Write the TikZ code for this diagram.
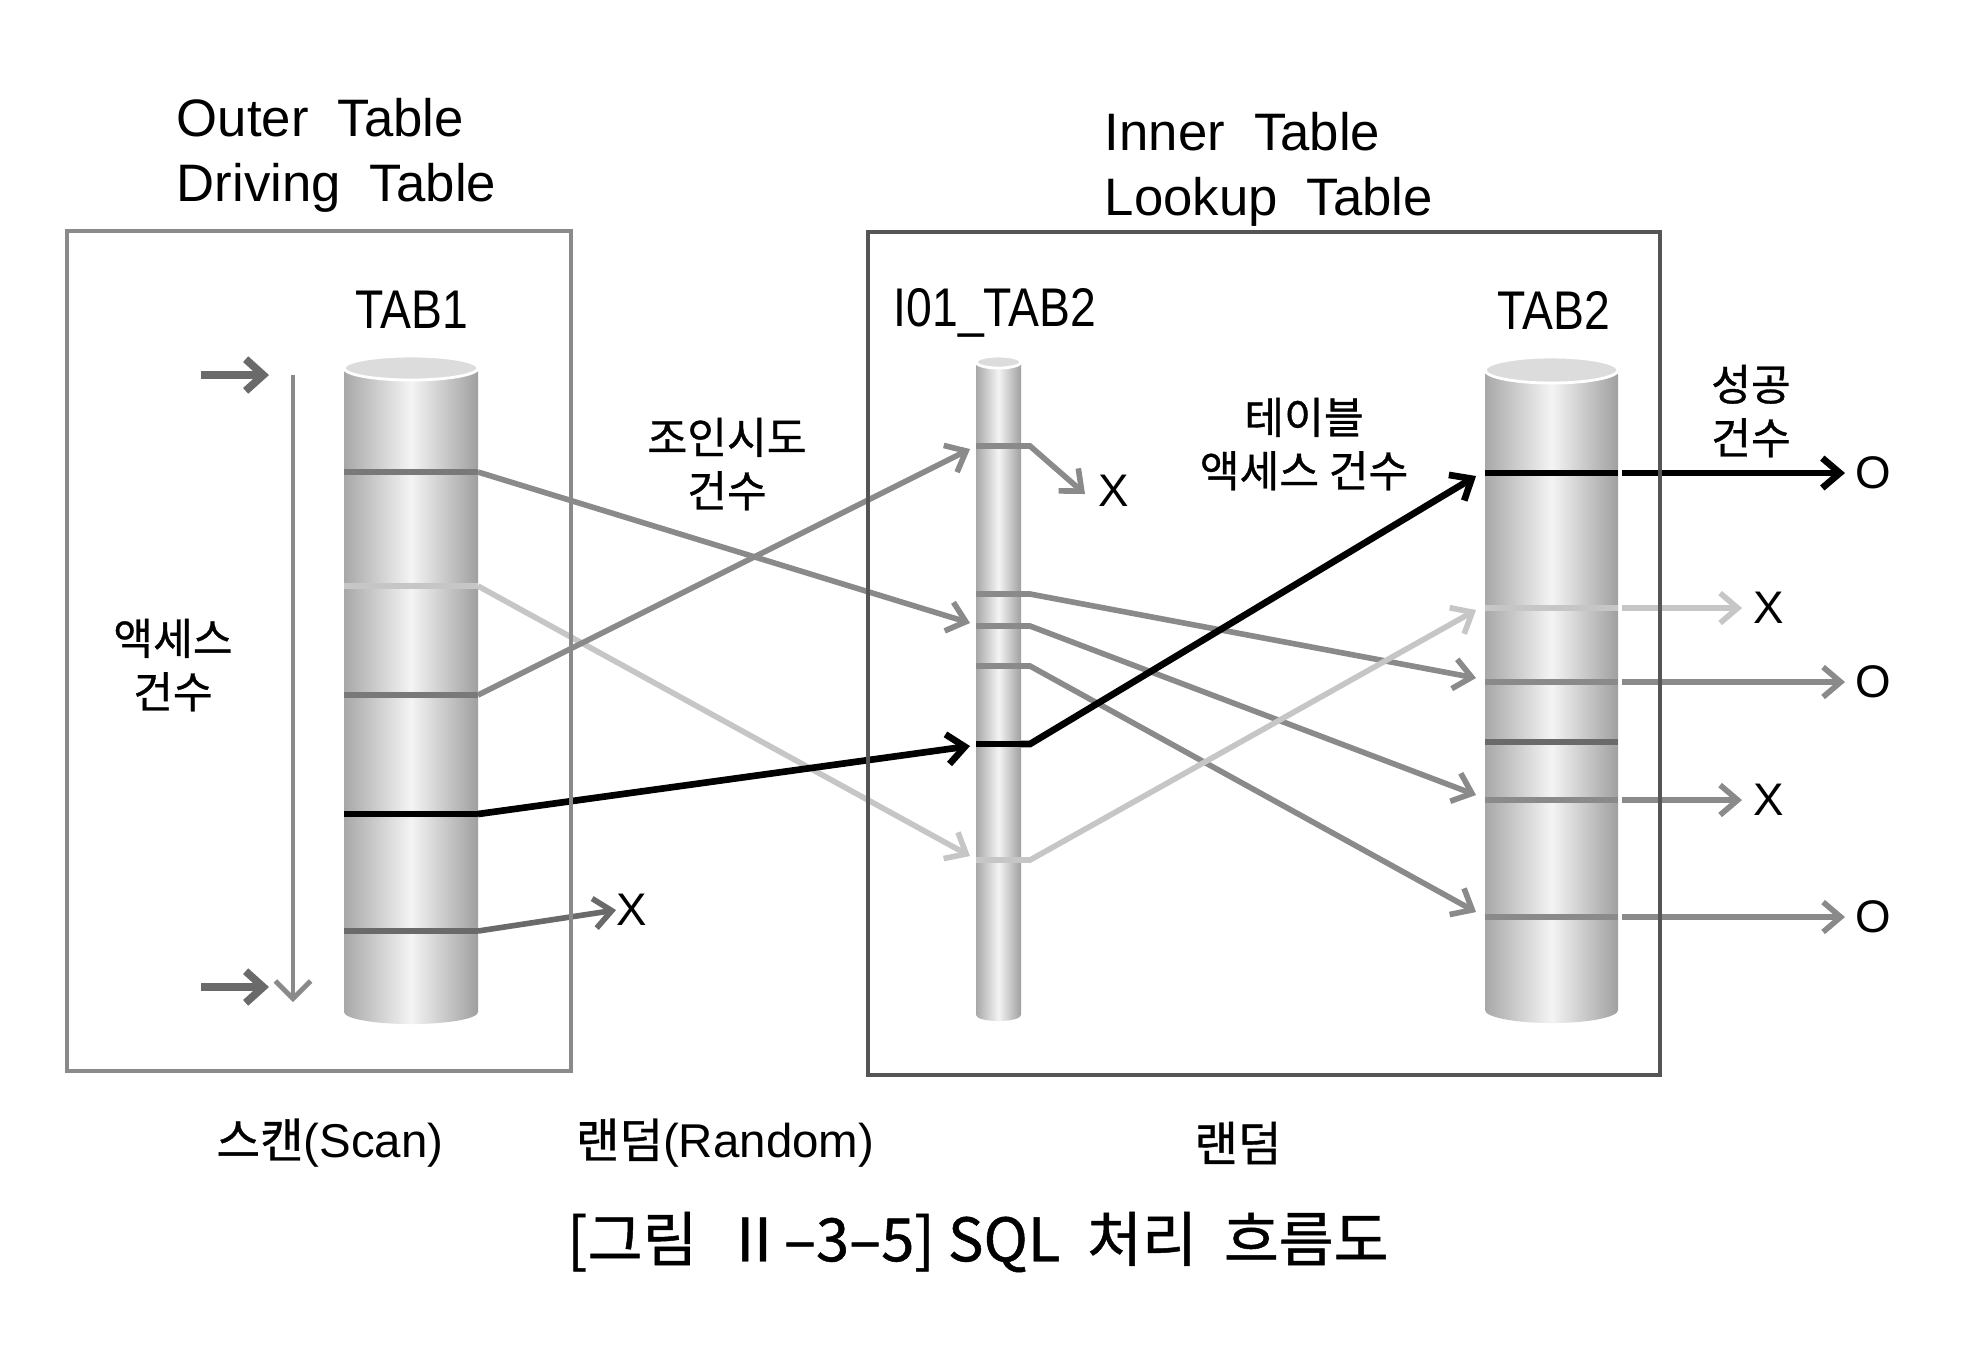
\documentclass[tikz,border=0pt]{standalone}
\usepackage{fontspec}
\setmainfont{Liberation Sans}
\newfontfamily\kr[FakeBold=0.8]{Noto Sans CJK KR}
\newfontfamily\narrowsans[FakeStretch=0.85]{Liberation Sans}
\usetikzlibrary{arrows.meta}

\definecolor{linegray}{HTML}{8A8A8A}
\definecolor{lightline}{HTML}{C6C6C6}
\definecolor{darkline}{HTML}{6A6A6A}
\definecolor{boxgray}{HTML}{8A8A8A}
\definecolor{boxdark}{HTML}{555555}
\definecolor{cylside}{HTML}{A8A8A8}
\definecolor{cylmid}{HTML}{F4F4F4}
\definecolor{cyltopfill}{HTML}{DCDCDC}

\tikzset{
  cylbody/.style={left color=cylside, right color=cylside!95!black, middle color=cylmid},
  cyltop/.style={fill=cyltopfill, draw=white, line width=0.8pt},
  stripe/.style={line width=1.7pt},
  flow/.style={line width=1.6pt, -{Straight Barb[length=5pt,width=8.5pt]}},
  sidearrow/.style={draw=darkline, line width=2.2pt, -{Straight Barb[length=5pt,width=9pt]}},
  titletext/.style={font=\fontsize{15}{18.4}\selectfont, align=left, inner sep=0pt},
  tablabel/.style={font=\narrowsans\fontsize{15.5}{18}\selectfont, inner sep=0pt},
  krlabel/.style={font=\kr\fontsize{12.3}{15.2}\selectfont, align=center, inner sep=0pt},
  resultmark/.style={font=\fontsize{13}{15}\selectfont, inner sep=0pt},
  bottomlabel/.style={font=\fontsize{13.5}{16}\selectfont, inner sep=0pt},
}

\begin{document}
\begin{tikzpicture}
  \path[use as bounding box, fill=white] (0,0) rectangle (19.70,-13.64);

  % titles
  \node[titletext, anchor=north west] (outer) at (1.76,-0.98) {Outer\ \ Table\\Driving\ \ Table};
  \node[titletext, anchor=north west] (inner) at (11.04,-1.12) {Inner\ \ Table\\Lookup\ \ Table};

  % cylinders
  \shade[cylbody] (3.44,-3.68) -- (3.44,-10.12) arc[start angle=180,end angle=360,x radius=0.67,y radius=0.12] -- (4.78,-3.68) -- cycle;
  \filldraw[cyltop] (4.11,-3.68) ellipse [x radius=0.67, y radius=0.12];
  \shade[cylbody] (9.76,-3.62) -- (9.76,-10.15) arc[start angle=180,end angle=360,x radius=0.225,y radius=0.06] -- (10.21,-3.62) -- cycle;
  \filldraw[cyltop] (9.985,-3.62) ellipse [x radius=0.225, y radius=0.06];
  \shade[cylbody] (14.85,-3.70) -- (14.85,-10.10) arc[start angle=180,end angle=360,x radius=0.665,y radius=0.13] -- (16.18,-3.70) -- cycle;
  \filldraw[cyltop] (15.515,-3.70) ellipse [x radius=0.665, y radius=0.13];

  \node[tablabel] (tab1) at (4.12,-3.10) {TAB1};
  \node[tablabel] (idx) at (9.95,-3.13) {I01\_TAB2};
  \node[tablabel] (tab2) at (15.54,-3.10) {TAB2};

  % stripe ends
  \coordinate (s1) at (4.78,-4.72);
  \coordinate (s2) at (4.78,-5.86);
  \coordinate (s3) at (4.78,-6.95);
  \coordinate (s4) at (4.78,-8.14);
  \coordinate (s5) at (4.78,-9.31);
  \coordinate (i1) at (10.21,-4.46);
  \coordinate (i2) at (10.21,-5.94);
  \coordinate (i3) at (10.21,-6.26);
  \coordinate (i4) at (10.21,-6.66);
  \coordinate (i5) at (10.21,-7.44);
  \coordinate (i6) at (10.21,-8.60);
  \coordinate (t1) at (16.22,-4.73);
  \coordinate (t2) at (16.22,-6.08);
  \coordinate (t3) at (16.22,-6.82);
  \coordinate (t5) at (16.22,-8.00);
  \coordinate (t6) at (16.22,-9.17);
  % arrow tips
  \coordinate (i1in) at (9.70,-4.49);
  \coordinate (i3in) at (9.70,-6.23);
  \coordinate (i5in) at (9.70,-7.46);
  \coordinate (i6in) at (9.70,-8.56);
  \coordinate (t1in) at (14.76,-4.76);
  \coordinate (t2in) at (14.76,-6.10);
  \coordinate (t3in) at (14.76,-6.78);
  \coordinate (t5in) at (14.76,-7.95);
  \coordinate (t6in) at (14.76,-9.12);

  % stripes on the tables
  \draw[stripe, darkline!90] (3.44,-4.72) -- (s1);
  \draw[stripe, lightline] (3.44,-5.86) -- (s2);
  \draw[stripe, darkline!90] (3.44,-6.95) -- (s3);
  \draw[stripe, black] (3.44,-8.14) -- (s4);
  \draw[stripe, darkline] (3.44,-9.31) -- (s5);
  \draw[stripe, linegray] (9.76,-4.46) -- (10.30,-4.46);
  \draw[stripe, linegray] (9.76,-5.94) -- (10.30,-5.94);
  \draw[stripe, linegray] (9.76,-6.26) -- (10.30,-6.26);
  \draw[stripe, linegray] (9.76,-6.66) -- (10.30,-6.66);
  \draw[stripe, black] (9.76,-7.44) -- (10.30,-7.44);
  \draw[stripe, lightline] (9.76,-8.60) -- (10.30,-8.60);
  \draw[stripe, black] (14.85,-4.73) -- (16.18,-4.73);
  \draw[stripe, lightline] (14.85,-6.08) -- (16.18,-6.08);
  \draw[stripe, linegray] (14.85,-6.82) -- (16.18,-6.82);
  \draw[stripe, darkline] (14.85,-7.42) -- (16.18,-7.42);
  \draw[stripe, linegray] (14.85,-8.00) -- (16.18,-8.00);
  \draw[stripe, linegray] (14.85,-9.17) -- (16.18,-9.17);

  % scan direction
  \coordinate (scantop) at (2.01,-3.75);
  \coordinate (scanbot) at (2.01,-9.87);
  \draw[sidearrow] (scantop) -- ++(0.68,0);
  \draw[sidearrow] (scanbot) -- ++(0.68,0);
  \draw[draw=linegray, line width=1.4pt, -{Straight Barb[length=5pt,width=10pt]}] (2.93,-3.75) -- (2.93,-10.02);
  \node[krlabel] (access) at (1.73,-6.65) {액세스\\건수};

  % TAB1 -> I01_TAB2
  \draw[flow, linegray] (s1) -- (i3in);
  \draw[flow, lightline] (s2) -- (i6in);
  \draw[flow, linegray] (s3) -- (i1in);
  \draw[flow, black, line width=1.9pt] (s4) -- (i5in);
  \node[resultmark] (x1) at (6.32,-9.10) {X};
  \draw[flow, darkline] (s5) -- (x1.west);
  \node[krlabel] (join) at (7.27,-4.64) {조인시도\\건수};

  % I01_TAB2 -> TAB2
  \node[resultmark] (x2) at (11.14,-4.91) {X};
  \draw[flow, linegray] (i1) -- (10.30,-4.46) -- (10.85,-4.94);
  \draw[flow, linegray] (i2) -- (10.30,-5.94) -- (t3in);
  \draw[flow, linegray] (i3) -- (10.30,-6.26) -- (t5in);
  \draw[flow, linegray] (i4) -- (10.30,-6.66) -- (t6in);
  \draw[flow, lightline] (i6) -- (10.30,-8.60) -- (t2in);
  \draw[flow, black, line width=1.9pt] (i5) -- (10.30,-7.44) -- (t1in);
  \node[krlabel] (tblaccess) at (13.04,-4.44) {테이블\\액세스 건수};

  % TAB2 -> result
  \node[resultmark] (o1) at (18.73,-4.73) {O};
  \node[resultmark] (x3) at (17.69,-6.08) {X};
  \node[resultmark] (o2) at (18.73,-6.82) {O};
  \node[resultmark] (x4) at (17.69,-8.00) {X};
  \node[resultmark] (o3) at (18.73,-9.17) {O};
  \draw[flow, black, line width=1.9pt] (t1) -- (18.45,-4.73);
  \draw[flow, lightline] (t2) -- (17.42,-6.08);
  \draw[flow, linegray] (t3) -- (18.45,-6.82);
  \draw[flow, linegray] (t5) -- (17.42,-8.00);
  \draw[flow, linegray] (t6) -- (18.45,-9.17);
  \node[krlabel] (success) at (17.51,-4.11) {성공\\건수};

  % boxes
  \draw[boxgray, line width=0.9pt] (0.67,-2.31) rectangle (5.71,-10.71);
  \draw[boxdark, line width=0.9pt] (8.68,-2.32) rectangle (16.60,-10.75);

  % bottom labels
  \node[bottomlabel] (scan) at (3.30,-11.43) {{\kr 스캔}(Scan)};
  \node[bottomlabel] (random) at (7.25,-11.43) {{\kr 랜덤}(Random)};
  \node[bottomlabel] (random2) at (12.38,-11.43) {\kr 랜덤};
  \node[font=\kr\fontsize{17}{20}\selectfont, inner sep=0pt] (caption) at (9.78,-12.42) {[그림\ \ Ⅱ–3–5]\ SQL\ \ 처리\ \ 흐름도};
\end{tikzpicture}
\end{document}
